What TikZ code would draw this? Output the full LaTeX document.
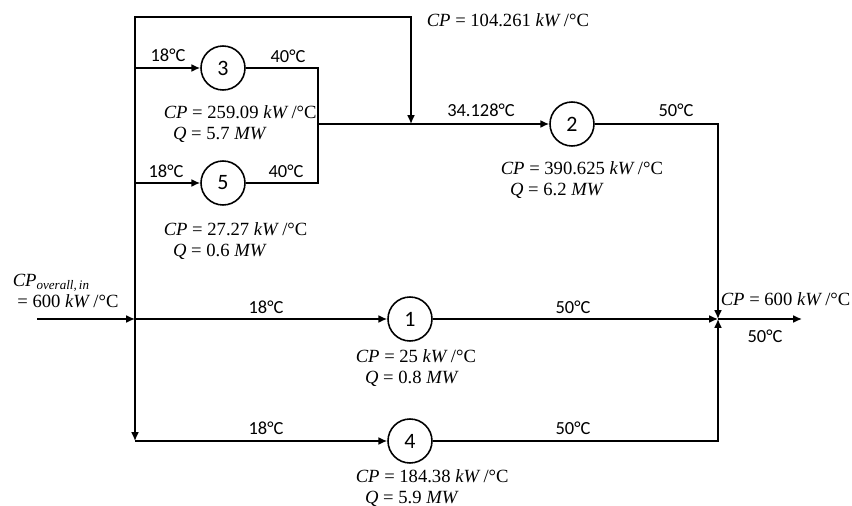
\documentclass[tikz,border=0pt]{standalone}
\usepackage{fontspec}
\setmainfont{Carlito}
\newfontfamily\eqfont{Liberation Serif}
\newcommand{\kWC}{\textit{kW}\,/°C}
\usetikzlibrary{arrows.meta}

\begin{document}
\begin{tikzpicture}[x=0.02cm,y=-0.02cm,line width=0.9pt,
  flow/.style={-{Latex[length=5pt,width=4.5pt]}},
  hx/.style={draw,circle,minimum size=0.88cm,inner sep=0pt,font=\fontsize{12.5}{15}\selectfont},
  lbl/.style={font=\fontsize{10.5}{12.6}\selectfont,inner sep=0pt},
  eq/.style={font=\eqfont\fontsize{10.6}{12}\selectfont,inner sep=0pt},
  cpbox/.style={eq,align=left,anchor=north west}]
\useasboundingbox (0,0) rectangle (852,506);

% stream junctions
\coordinate (in) at (37,319);
\coordinate (split) at (135,319);
\coordinate (topL) at (135,17);
\coordinate (topR) at (411,17);
\coordinate (byp) at (411,124);
\coordinate (b3) at (135,68);
\coordinate (b5) at (135,183);
\coordinate (botL) at (135,441);
\coordinate (r3) at (318,68);
\coordinate (r5) at (318,183);
\coordinate (join) at (318,124);
\coordinate (r2) at (718,124);
\coordinate (mix) at (718,319);
\coordinate (r4) at (718,441);
\coordinate (out) at (802,319);

% heat exchangers
\node [hx] (h3) at (223,68) {3};
\node [hx] (h5) at (223,183) {5};
\node [hx] (h2) at (572,124) {2};
\node [hx] (h1) at (410,319) {1};
\node [hx] (h4) at (410,441) {4};

% piping
\draw [flow] (in) -- (split);
\draw [flow] (split) -- (h1);
\draw [flow] (split) -- (topL) -- (topR) -- (byp);
\draw [flow] (split) -- (botL);
\draw [flow] (botL) -- (h4);
\draw [flow] (b3) -- (h3);
\draw [flow] (b5) -- (h5);
\draw (h3) -- (r3) -- (r5) -- (h5);
\draw [flow] (join) -- (h2);
\draw [flow] (h2) -- (r2) -- (mix);
\draw [flow] (h1) -- (mix);
\draw [flow] (h4) -- (r4) -- (mix);
\draw [flow] (mix) -- (out);

% temperatures
\node [lbl] (t3a) at (168,55) {18°C};
\node [lbl] (t3b) at (288,56) {40°C};
\node [lbl] (t5a) at (166,171) {18°C};
\node [lbl] (t5b) at (286,171) {40°C};
\node [lbl] (t2a) at (481,110) {34.128°C};
\node [lbl] (t2b) at (676,110) {50°C};
\node [lbl] (t1a) at (266,307) {18°C};
\node [lbl] (t1b) at (573,307) {50°C};
\node [lbl] (t4a) at (266,428) {18°C};
\node [lbl] (t4b) at (573,428) {50°C};
\node [lbl] (tout) at (765,336) {50°C};

% heat capacity flows and duties
\node [eq,anchor=west] (cpbyp) at (426,20) {\textit{CP} = 104.261 \kWC};
\node [cpbox] (cp3) at (163,105) {\textit{CP} = 259.09 \kWC\\\ \ \textit{Q} = 5.7 \textit{MW}};
\node [cpbox] (cp5) at (163,222) {\textit{CP} = 27.27 \kWC\\\ \ \textit{Q} = 0.6 \textit{MW}};
\node [cpbox] (cp2) at (500,161) {\textit{CP} = 390.625 \kWC\\\ \ \textit{Q} = 6.2 \textit{MW}};
\node [cpbox] (cp1) at (355,349) {\textit{CP} = 25 \kWC\\\ \ \textit{Q} = 0.8 \textit{MW}};
\node [cpbox] (cp4) at (355,469) {\textit{CP} = 184.38 \kWC\\\ \ \textit{Q} = 5.9 \textit{MW}};
\node [cpbox] (cpin) at (12,273) {\textit{CP\textsubscript{overall,\,in}}\\\ = 600 \kWC};
\node [eq,anchor=west] (cpout) at (720,299) {\textit{CP} = 600 \kWC};
\end{tikzpicture}
\end{document}
